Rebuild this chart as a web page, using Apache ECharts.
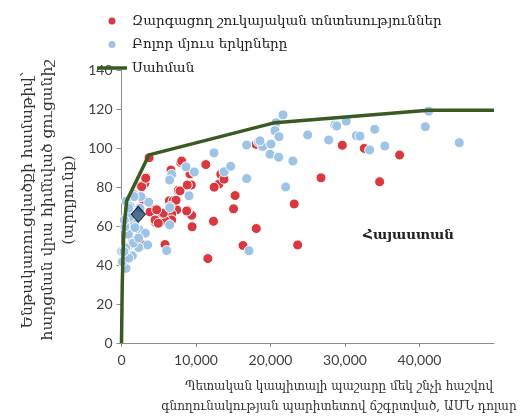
<!DOCTYPE html>
<html>
<head>
<meta charset="utf-8">
<script src="https://cdn.jsdelivr.net/npm/echarts@6/dist/echarts.min.js"></script>
<style>html,body{margin:0;padding:0;background:#fff}#c{width:527px;height:418px}</style>
</head>
<body>
<div id="c"></div>
<script>
var seriesNames = ['Զարգացող շուկայական տնտեսություններ', 'Բոլոր մյուս երկրները', 'Սահման'];
var emergingPts = [
  [3700,95],[3300,85],[2600,80.5],[3150,82],[1600,76],[2900,73.5],[2710,80.2],[3250,84.5],
  [6640,88.7],[7950,92.6],[8080,93.3],[9190,86.7],[11320,91.5],[7630,78.3],[7850,78],[9370,81],[8830,81],
  [13330,86.5],[13090,81.5],[12440,79.9],[13760,84],[15250,75.6],[15040,68.8],
  [26780,84.7],[34650,82.7],[23180,71.3],[18090,58.7],[23650,50.3],[16310,50],[11590,43.3],
  [12350,62.4],[9480,59.6],[9420,65.5],[8860,67.9],[7410,68.3],[6740,66.2],[6740,63.1],
  [6420,72.9],[6950,73],[7320,73.2],[5840,62.8],[5170,66],[4590,61.8],[4400,68.3],[3830,67.2],
  [5840,50.5],[5400,66.6],[4500,63.1],[4940,61.4],[5620,66.6],[4720,68.3],[6510,70],[8750,67.7],
  [2930,50.3],[18050,101.9],[29640,101.4],[32590,99.8],[37330,96.4]
];
var otherPts = [
  [12420,97.5],[8660,90.3],[9770,87.7],[6740,86.5],[6470,83.6],[13780,87.8],[14660,90.6],[16800,84.3],
  [16800,101.5],[18360,103.2],[18950,100.8],[20070,102],[19930,96.8],[21100,95.3],[23000,93.3],[22040,80],
  [17110,47.3],[9060,75.5],[6470,69.4],[6470,60.6],[6070,47.4],[3650,72.2],[2600,75.1],[1680,75.1],
  [650,72.7],[2390,58],[3200,56.3],[1720,61.1],[3510,50.3],[2300,49],[1450,44.7],[600,38.3],
  [130,41.7],[30,46.9],[830,49.3],[970,43.5],[1450,52.7],[920,55.8],[470,59.6],[1080,64.4],
  [2480,69.1],[380,63.1],[1810,59.2],[1590,51.2],[560,48.6],[1140,70],[970,69.1],[2300,53.8],[335,46.9],
  [21680,117],[20740,113],[20600,108.9],[21140,105.8],[18590,103.7],[24990,106.7],[27810,104.1],
  [28620,111.8],[28890,111.3],[30170,113.8],[31520,106.3],[32010,106.1],[33990,109.6],[33310,99],
  [35350,101],[41230,118.9],[40780,110.9],[45340,102.7]
];
var frontierPts = [[0,0],[100,30],[200,45],[350,60],[700,73],[3700,96.5],[20600,113],[41200,119.3],[50000,119.3]];
var armeniaPt = [[2260,66]];
var armeniaLabel = 'Հայաստան';
var xTicks = [0,10000,20000,30000,40000];
var yTitle = 'Ենթակառուցվածքի համաթիվ՝\nհարցման վրա հիմնված ցուցանիշ\n(արդյունք)';
var xTitle = 'Պետական կապիտալի պաշարը մեկ շնչի հաշվով\nգնողունակության պարիտետով ճշգրտված, ԱՄՆ դոլար';

var serif = "'DejaVu Serif', serif";
var sans = "Lato, 'Open Sans', sans-serif";
var chart = echarts.init(document.getElementById('c'));
chart.setOption({
  animation: false,
  grid: {left: 121.5, right: 33, top: 70, bottom: 75, containLabel: false},
  legend: {
    orient: 'vertical', left: 92, top: 9, itemGap: 9.5, itemWidth: 30, itemHeight: 9,
    symbolKeepAspect: true,
    data: [
      {name: seriesNames[0], icon: 'circle'},
      {name: seriesNames[1], icon: 'circle'},
      {name: seriesNames[2], icon: 'path://M0,0L30,0L30,3.5L0,3.5Z'}
    ],
    textStyle: {fontFamily: serif, fontSize: 13.5, color: '#222'}
  },
  xAxis: {
    type: 'value', min: 0, max: 50000, interval: 10000,
    axisLine: {lineStyle: {color: '#8c8c8c'}},
    axisTick: {show: true, length: 4, lineStyle: {color: '#8c8c8c'}, customValues: xTicks},
    axisLabel: {customValues: xTicks, fontFamily: sans, fontSize: 14, color: '#404040', margin: 10,
      formatter: function(v){ return v === 0 ? '0' : v.toLocaleString('en-US'); }},
    splitLine: {show: false}
  },
  yAxis: {
    type: 'value', min: 0, max: 140, interval: 20,
    axisLine: {show: true, lineStyle: {color: '#8c8c8c'}},
    axisTick: {show: true, length: 5, lineStyle: {color: '#8c8c8c'}},
    axisLabel: {fontFamily: sans, fontSize: 14, color: '#404040', margin: 9},
    splitLine: {show: false}
  },
  graphic: [
    {type: 'text', x: 48, y: 200, rotation: Math.PI/2,
      style: {text: yTitle, fontFamily: serif, fontSize: 15.5, fill: '#333', align: 'center', verticalAlign: 'middle', lineHeight: 20.5}},
    {type: 'text', x: 339, y: 397,
      style: {text: xTitle, fontFamily: serif, fontSize: 12, fill: '#333', align: 'center', verticalAlign: 'middle', lineHeight: 20}},
    {type: 'text', x: 363, y: 235,
      style: {text: armeniaLabel, fontFamily: serif, fontSize: 13.5, fontWeight: 'bold', fill: '#222', align: 'left', verticalAlign: 'middle'}}
  ],
  series: [
    {name: seriesNames[0], type: 'scatter', data: emergingPts, symbol: 'circle', symbolSize: 10,
      itemStyle: {color: '#d9393e', borderColor: '#fff', borderWidth: 1, opacity: 1}, z: 2},
    {name: seriesNames[1], type: 'scatter', data: otherPts, symbol: 'circle', symbolSize: 10,
      itemStyle: {color: '#9dc3e6', borderColor: '#fff', borderWidth: 1, opacity: 1}, z: 3},
    {name: seriesNames[2], type: 'line', data: frontierPts, symbol: 'none', smooth: false,
      lineStyle: {color: '#3b5a23', width: 3.5}, itemStyle: {color: '#3b5a23'}, z: 4},
    {name: armeniaLabel, type: 'scatter', data: armeniaPt, symbol: 'diamond', symbolSize: [14,16],
      itemStyle: {color: '#1f4e79', borderColor: '#000', borderWidth: 1}, z: 5}
  ]
});
</script>
</body>
</html>
